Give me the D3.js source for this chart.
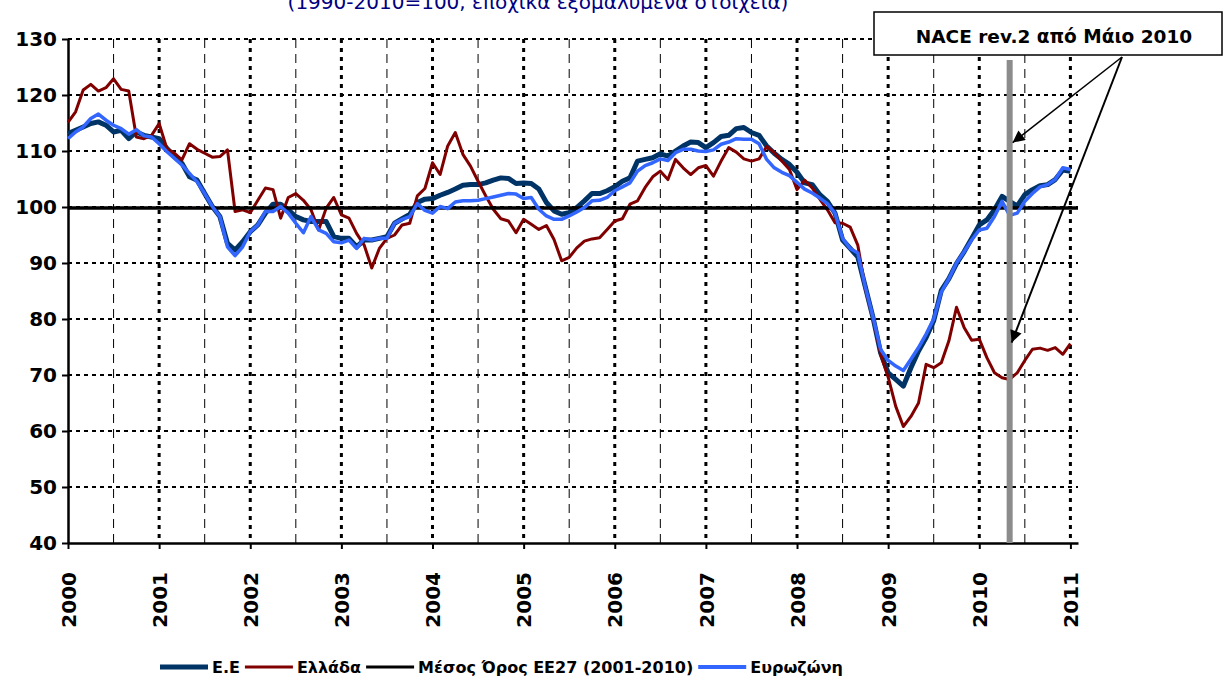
<!DOCTYPE html>
<html>
<head>
<meta charset="utf-8">
<script src="https://cdn.jsdelivr.net/npm/d3@7"></script>
<style>
  body { margin: 0; background: #fff; }
  svg { display: block; font-family: "DejaVu Sans", Verdana, sans-serif; }
</style>
</head>
<body>
<div id="chart"></div>
<script>
// monthly data, Jan 2000 (index 0) .. Jan 2011 (index 132)
const yearLabels = ["2000", "2001", "2002", "2003", "2004", "2005", "2006", "2007", "2008", "2009", "2010", "2011"];
const yTicks = [40, 50, 60, 70, 80, 90, 100, 110, 120, 130];

const seriesEE = [
  113.1, 113.7, 114.3, 114.9, 115.2, 114.6, 113.4, 113.7, 112.2, 113.4, 112.8, 112.5,
  112.2, 110.5, 109.0, 107.8, 105.4, 104.8, 102.4, 100.1, 98.3, 93.5, 92.3, 93.8,
  95.6, 96.8, 98.9, 100.5, 100.5, 99.5, 98.3, 97.7, 97.4, 97.4, 97.4, 94.7,
  94.4, 94.4, 92.9, 94.1, 94.1, 94.4, 94.7, 97.1, 97.9, 98.7, 100.8, 101.4,
  101.5, 102.1, 102.6, 103.2, 103.9, 104.0, 104.0, 104.3, 104.8, 105.2, 105.1, 104.2,
  104.3, 104.2, 103.2, 100.8, 99.3, 98.7, 99.0, 99.9, 101.1, 102.4, 102.4, 102.9,
  103.6, 104.6, 105.2, 108.2, 108.5, 108.8, 109.5, 109.1, 110.0, 110.9, 111.6, 111.5,
  110.6, 111.5, 112.6, 112.8, 114.0, 114.2, 113.3, 112.8, 110.9, 109.6, 108.5, 107.6,
  106.2, 104.3, 104.0, 102.2, 101.0, 98.9, 94.1, 92.6, 91.1, 85.7, 80.3, 74.0,
  70.4, 69.2, 68.0, 71.3, 74.3, 76.7, 79.7, 85.1, 87.2, 89.9, 92.0, 94.4,
  96.8, 97.7, 99.5, 101.9, 101.0, 100.2, 102.2, 103.1, 103.8, 104.0, 104.9, 106.6,
  106.4
];

const seriesGreece = [
  115.1, 117.0, 120.9, 121.9, 120.7, 121.3, 122.9, 121.0, 120.7, 112.5, 112.2, 112.8,
  114.9, 110.5, 109.6, 108.4, 111.3, 110.3, 109.6, 108.9, 109.0, 110.2, 99.2, 99.5,
  99.0, 101.2, 103.4, 103.1, 98.0, 101.7, 102.4, 101.2, 99.5, 95.9, 99.8, 101.7,
  98.6, 98.0, 95.3, 93.2, 89.1, 92.6, 94.4, 95.0, 96.8, 97.1, 102.0, 103.3,
  107.9, 105.8, 110.9, 113.3, 109.4, 107.3, 104.6, 102.0, 99.6, 97.9, 97.5, 95.4,
  97.8, 96.9, 96.0, 96.7, 94.2, 90.4, 91.0, 92.7, 93.9, 94.3, 94.5, 96.0,
  97.5, 97.9, 100.5, 101.1, 103.5, 105.4, 106.4, 104.9, 108.5, 107.0, 105.8, 107.0,
  107.4, 105.5, 108.2, 110.6, 109.8, 108.6, 108.2, 108.6, 110.8, 109.7, 108.2, 106.7,
  103.1, 104.8, 103.4, 101.4, 99.5, 97.2, 97.1, 96.4, 93.2, 85.4, 80.3, 73.7,
  69.6, 64.4, 60.8, 62.6, 65.0, 71.9, 71.3, 72.2, 76.1, 82.1, 78.5, 76.2,
  76.4, 73.1, 70.4, 69.5, 69.2, 70.4, 72.6, 74.6, 74.8, 74.4, 74.9, 73.7,
  75.6
];

const seriesEurozone = [
  112.2, 113.4, 114.3, 115.8, 116.6, 115.5, 114.6, 114.0, 113.0, 113.8, 112.7, 112.5,
  111.3, 109.9, 108.7, 107.5, 106.0, 104.5, 102.4, 100.1, 98.3, 92.9, 91.3, 92.9,
  95.6, 96.8, 99.2, 99.2, 100.1, 98.9, 97.1, 95.4, 98.3, 95.9, 95.3, 93.8,
  93.6, 94.1, 92.6, 94.4, 94.1, 94.4, 94.4, 97.1, 97.8, 98.3, 100.6, 99.4,
  98.9, 100.1, 99.7, 100.9, 101.1, 101.1, 101.2, 101.5, 101.8, 102.1, 102.4, 102.3,
  101.5, 101.7, 99.6, 98.4, 97.8, 97.8, 98.4, 99.1, 99.9, 101.1, 101.2, 101.7,
  102.9, 103.6, 104.3, 106.4, 107.4, 107.9, 108.6, 108.3, 109.7, 110.3, 110.3, 110.0,
  109.9, 110.2, 111.2, 111.6, 112.2, 112.1, 112.1, 111.3, 108.5, 107.0, 106.2, 105.6,
  104.4, 103.2, 102.5, 101.6, 100.6, 98.9, 94.4, 92.6, 91.8, 85.7, 80.4, 74.6,
  72.6, 71.6, 70.8, 72.8, 74.9, 77.3, 80.0, 84.8, 87.2, 90.0, 92.0, 94.1,
  95.9, 96.2, 98.3, 101.0, 98.5, 98.9, 101.0, 102.4, 103.6, 104.0, 104.9, 107.0,
  106.7
];

const meanEU27 = 99.8;          // Μέσος Όρος ΕΕ27 (2001-2010)
const naceMonth = 124;          // May 2010
const naceLabel = "NACE rev.2 από Μάιο 2010";
const titleText = "(1990-2010=100, εποχικά εξομαλυμένα στοιχεία)";

const legendItems = [
  { name: "Ε.Ε", color: "#003366", width: 5 },
  { name: "Ελλάδα", color: "#800000", width: 3 },
  { name: "Μέσος Όρος ΕΕ27 (2001-2010)", color: "#000000", width: 3 },
  { name: "Ευρωζώνη", color: "#3366ff", width: 4 }
];

const svg = d3.select("#chart").append("svg")
  .attr("width", 1226)
  .attr("height", 686);

const x = d3.scaleLinear().domain([0, 133]).range([68, 1078]);
const y = d3.scaleLinear().domain([40, 130]).range([543, 39]);

// title (top edge cut off, as in the source)
svg.append("text")
  .attr("x", 538).attr("y", 9)
  .attr("text-anchor", "middle")
  .attr("fill", "#000080")
  .attr("font-size", 20)
  .text(titleText);

// horizontal grid
svg.append("g").selectAll("line")
  .data(yTicks.filter(d => d > 40))
  .enter().append("line")
  .attr("x1", x(0)).attr("x2", x(133))
  .attr("y1", d => y(d)).attr("y2", d => y(d))
  .attr("stroke", "#000").attr("stroke-width", 2)
  .attr("stroke-dasharray", "4,4");

// vertical grid: years dotted, half-years dashed
const yearIdx = d3.range(12, 133, 12);
const halfIdx = d3.range(6, 133, 12);
svg.append("g").selectAll("line")
  .data(halfIdx)
  .enter().append("line")
  .attr("x1", d => x(d)).attr("x2", d => x(d))
  .attr("y1", y(130)).attr("y2", y(40))
  .attr("stroke", "#000").attr("stroke-width", 1)
  .attr("stroke-dasharray", "9,6");
svg.append("g").selectAll("line")
  .data(yearIdx)
  .enter().append("line")
  .attr("x1", d => x(d)).attr("x2", d => x(d))
  .attr("y1", y(130)).attr("y2", y(40))
  .attr("stroke", "#000").attr("stroke-width", 3)
  .attr("stroke-dasharray", "4,5");

// axes
svg.append("g")
  .attr("transform", `translate(${x(0)},0)`)
  .call(d3.axisLeft(y).tickValues(yTicks).tickSize(6).tickSizeOuter(0).tickPadding(5))
  .call(g => g.select(".domain").attr("stroke-width", 2.5))
  .call(g => g.selectAll(".tick line").attr("stroke-width", 2))
  .call(g => g.selectAll("text")
    .attr("font-family", "DejaVu Sans, sans-serif")
    .attr("font-size", 20).attr("font-weight", "bold").attr("fill", "#000"));

svg.append("g")
  .attr("transform", `translate(0,${y(40)})`)
  .call(d3.axisBottom(x).tickValues(d3.range(0, 133, 12)).tickSize(6).tickSizeOuter(0)
    .tickFormat((d, i) => yearLabels[i]))
  .call(g => g.select(".domain").attr("stroke-width", 2.5))
  .call(g => g.selectAll(".tick line").attr("stroke-width", 2))
  .call(g => g.selectAll("text")
    .attr("font-family", "DejaVu Sans, sans-serif")
    .attr("font-size", 20).attr("font-weight", "bold").attr("fill", "#000")
    .attr("transform", "rotate(-90)")
    .attr("text-anchor", "end")
    .attr("x", -29).attr("y", 0).attr("dy", "0.36em"));

// series
const line = d3.line().x((d, i) => x(i)).y(d => y(d));

svg.append("path").datum(seriesEE)
  .attr("d", line).attr("fill", "none")
  .attr("stroke", "#003366").attr("stroke-width", 5).attr("stroke-linejoin", "round");

svg.append("path").datum(seriesGreece)
  .attr("d", line).attr("fill", "none")
  .attr("stroke", "#800000").attr("stroke-width", 3).attr("stroke-linejoin", "round");

svg.append("line")
  .attr("x1", x(0)).attr("x2", x(133))
  .attr("y1", y(meanEU27)).attr("y2", y(meanEU27))
  .attr("stroke", "#000").attr("stroke-width", 3.5);

svg.append("path").datum(seriesEurozone)
  .attr("d", line).attr("fill", "none")
  .attr("stroke", "#3366ff").attr("stroke-width", 3.5).attr("stroke-linejoin", "round");

// NACE rev.2 marker bar
svg.append("rect")
  .attr("x", x(naceMonth) - 3).attr("width", 6)
  .attr("y", 60).attr("height", y(40) - 60)
  .attr("fill", "#8c8c8c");

// annotation box and arrows
svg.append("defs").append("marker")
  .attr("id", "arrow")
  .attr("viewBox", "0 0 10 10")
  .attr("refX", 10).attr("refY", 5)
  .attr("markerUnits", "userSpaceOnUse")
  .attr("markerWidth", 14).attr("markerHeight", 12)
  .attr("orient", "auto")
  .append("path").attr("d", "M0,0L10,5L0,10z").attr("fill", "#000");

const box = { x: 874, y: 12, w: 348, h: 43 };
svg.append("rect")
  .attr("x", box.x).attr("y", box.y).attr("width", box.w).attr("height", box.h)
  .attr("fill", "#fff").attr("stroke", "#000").attr("stroke-width", 1.5);
svg.append("text")
  .attr("x", box.x + box.w / 2 + 6).attr("y", box.y + 31)
  .attr("text-anchor", "middle")
  .attr("font-size", 18.5).attr("font-weight", "bold")
  .text(naceLabel);

const arrowStart = [1122, 57];
svg.append("line")
  .attr("x1", arrowStart[0]).attr("y1", arrowStart[1])
  .attr("x2", x(naceMonth) + 3).attr("y2", y(111.5))
  .attr("stroke", "#000").attr("stroke-width", 1.5)
  .attr("marker-end", "url(#arrow)");
svg.append("line")
  .attr("x1", arrowStart[0]).attr("y1", arrowStart[1])
  .attr("x2", x(naceMonth) + 2).attr("y2", y(75.8))
  .attr("stroke", "#000").attr("stroke-width", 2)
  .attr("marker-end", "url(#arrow)");

// legend
const legend = svg.append("g").attr("transform", "translate(0,667)");
let lx = 160;
legendItems.forEach(item => {
  legend.append("line")
    .attr("x1", lx).attr("x2", lx + 48)
    .attr("y1", 0).attr("y2", 0)
    .attr("stroke", item.color).attr("stroke-width", item.width);
  const t = legend.append("text")
    .attr("x", lx + 52).attr("y", 0).attr("dy", "0.36em")
    .attr("font-size", 16).attr("font-weight", "bold")
    .text(item.name);
  lx += 52 + t.node().getComputedTextLength() + 5;
});
</script>
</body>
</html>
